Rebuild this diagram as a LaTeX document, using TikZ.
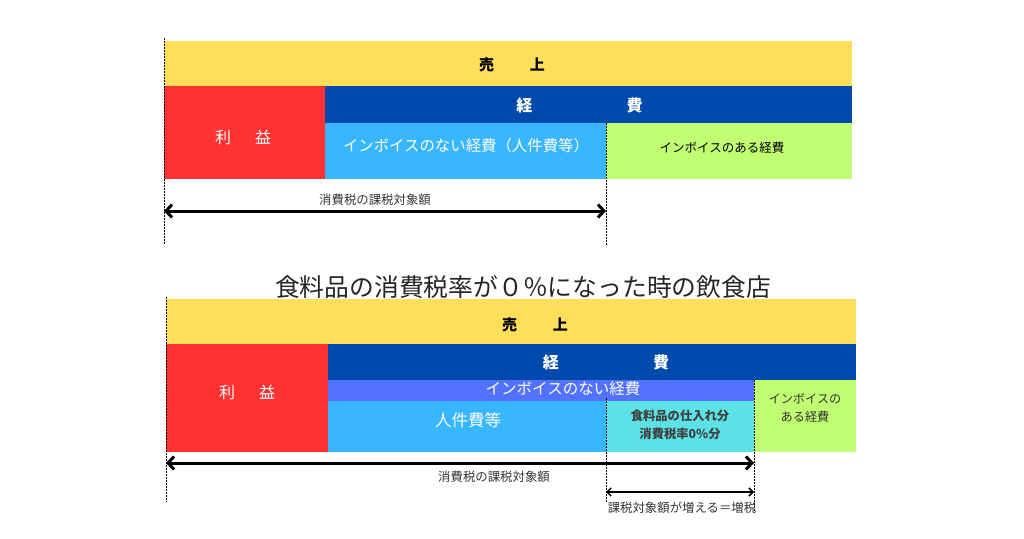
\documentclass[tikz,border=0pt]{standalone}
\usepackage{fontspec}
\setmainfont{Noto Sans CJK JP}
\usetikzlibrary{arrows.meta}

\definecolor{uriage}{HTML}{FFDE59}
\definecolor{rieki}{HTML}{FF3131}
\definecolor{keihi}{HTML}{004AAD}
\definecolor{nashi}{HTML}{38B6FF}
\definecolor{nashizen}{HTML}{5271FF}
\definecolor{ari}{HTML}{C1FF72}
\definecolor{shokuzai}{HTML}{5CE1E6}
\definecolor{moji}{HTML}{333333}

\newcommand{\fsz}[2]{\fontsize{#1pt}{#2pt}\selectfont}

\tikzset{
    tenline/.style={line width=1pt, dash pattern=on 1.5pt off 1.5pt},
    bigarrow/.style={{Straight Barb[length=6pt,width=13pt]}-{Straight Barb[length=6pt,width=13pt]}, line width=3pt},
    smallarrow/.style={{Straight Barb[length=4pt,width=8pt]}-{Straight Barb[length=4pt,width=8pt]}, line width=1.5pt},
    label/.style={text=moji, inner sep=0pt}
}

\begin{document}
\begin{tikzpicture}[x=1pt,y=-1pt]
        \useasboundingbox (0,0) rectangle (1024,538);

        \fill[uriage] (164,41) rectangle (852,86);
        \fill[rieki] (164,86) rectangle (325,179);
        \fill[keihi] (325,86) rectangle (852,123);
        \fill[nashi] (325,123) rectangle (606,179);
        \fill[ari] (606,123) rectangle (852,179);

        \node[label, text=black] (uriage1) at (512,65) {\fsz{15}{18}\bfseries 売\hspace{2.4em}上};
        \node[label, text=white] (rieki1) at (243,137) {\fsz{16}{19}利\hspace{1.5em}益};
        \node[label, text=white] (keihi1) at (579.5,105) {\fsz{16}{19}\bfseries 経\hspace{5.9em}費};
        \node[label, text=white] (nashi1) at (466,146) {\fsz{15.4}{18}インボイスのない経費（人件費等）};
        \node[label, text=black] (ari1) at (722,148) {\fsz{12.5}{15}インボイスのある経費};
        \node[label] (taisho1) at (375,200) {\fsz{12.4}{15}消費税の課税対象額};

        \coordinate (ten1a) at (164,38);
        \coordinate (ten1b) at (164,245);
        \coordinate (ten2a) at (606,123);
        \coordinate (ten2b) at (606,245);
        \draw[tenline] (ten1a) -- (ten1b);
        \draw[tenline] (ten2a) -- (ten2b);

        \coordinate (ya1l) at (164,211);
        \coordinate (ya1r) at (606,211);
        \draw[bigarrow] (ya1l) -- (ya1r);

        \node[text=black!85, inner sep=0pt] (title) at (523,287) {\fsz{24.8}{30}食料品の消費税率が０％になった時の飲食店};

        \fill[uriage] (166,299) rectangle (856,344);
        \fill[rieki] (166,344) rectangle (328,452);
        \fill[keihi] (328,344) rectangle (856,380);
        \fill[nashizen] (328,380) rectangle (754,401);
        \fill[nashi] (328,401) rectangle (606,452);
        \fill[shokuzai] (606,401) rectangle (754,452);
        \fill[ari] (754,380) rectangle (856,452);

        \node[label, text=black] (uriage2) at (535,325) {\fsz{15}{18}\bfseries 売\hspace{2.4em}上};
        \node[label, text=white] (rieki2) at (247,392) {\fsz{16}{19}利\hspace{1.5em}益};
        \node[label, text=white] (keihi2) at (606,362) {\fsz{16}{19}\bfseries 経\hspace{5.9em}費};
        \node[label, text=white] (nashi2) at (563,389) {\fsz{15.5}{18}インボイスのない経費};
        \node[label, text=white] (jinken) at (468,420) {\fsz{16.5}{19}人件費等};
        \node[label, text=black!75, align=center, font=\fsz{12.3}{17.5}\bfseries] (shokuzai2) at (680,425) {食料品の仕入れ分\\消費税率0\%分};
        \node[label, text=black!80, align=center, font=\fsz{12.2}{17.5}] (ari2) at (805,408) {インボイスの\\ある経費};

        \coordinate (ten3a) at (166,297);
        \coordinate (ten3b) at (166,502);
        \coordinate (ten4a) at (606,398);
        \coordinate (ten4b) at (606,503);
        \coordinate (ten5a) at (754,380);
        \coordinate (ten5b) at (754,512);
        \draw[tenline] (ten3a) -- (ten3b);
        \draw[tenline] (ten4a) -- (ten4b);
        \draw[tenline] (ten5a) -- (ten5b);

        \coordinate (ya2l) at (166,463);
        \coordinate (ya2r) at (754,463);
        \draw[bigarrow] (ya2l) -- (ya2r);
        \node[label] (taisho2) at (494,477) {\fsz{12.4}{15}消費税の課税対象額};

        \coordinate (ya3l) at (606,492);
        \coordinate (ya3r) at (754,492);
        \draw[smallarrow] (ya3l) -- (ya3r);
        \node[label] (zouzei) at (682,508) {\fsz{12.4}{15}課税対象額が増える＝増税};

    \end{tikzpicture}
\end{document}
